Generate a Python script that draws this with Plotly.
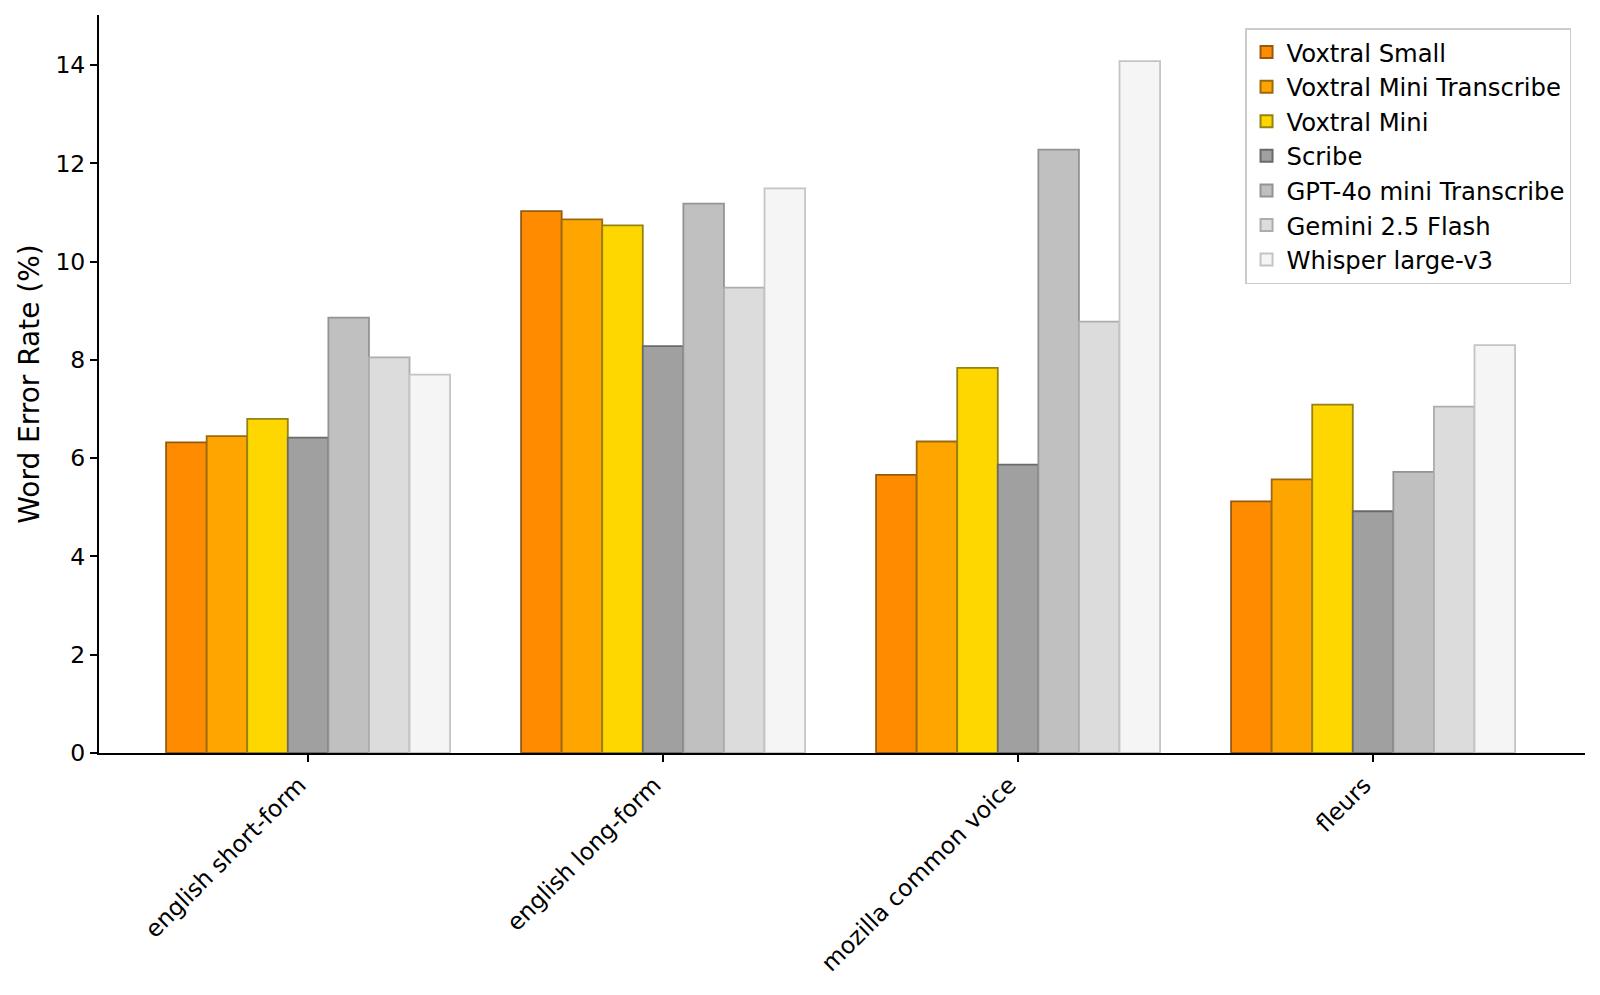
import plotly.graph_objects as go

categories = ["english short-form", "english long-form", "mozilla common voice", "fleurs"]
models = ["Voxtral Small", "Voxtral Mini Transcribe", "Voxtral Mini", "Scribe",
          "GPT-4o mini Transcribe", "Gemini 2.5 Flash", "Whisper large-v3"]
voxtral_small = [6.32, 11.03, 5.66, 5.12]
voxtral_mini_transcribe = [6.45, 10.86, 6.34, 5.57]
voxtral_mini = [6.80, 10.74, 7.84, 7.09]
scribe = [6.42, 8.28, 5.87, 4.92]
gpt4o_mini_transcribe = [8.86, 11.18, 12.28, 5.72]
gemini_flash = [8.05, 9.47, 8.78, 7.05]
whisper_large_v3 = [7.70, 11.49, 14.08, 8.30]
values = [voxtral_small, voxtral_mini_transcribe, voxtral_mini, scribe,
          gpt4o_mini_transcribe, gemini_flash, whisper_large_v3]

face_colors = ["#FF8C00", "#FFA500", "#FFD700", "#A0A0A0", "#C0C0C0", "#DCDCDC", "#F5F5F5"]
edge_colors = ["#955A12", "#9C6812", "#948212", "#6A6A6A", "#939393", "#ADADAD", "#C4C4C4"]

FONT = "DejaVu Sans"
fig = go.Figure()
for name, vals, fc, ec in zip(models, values, face_colors, edge_colors):
    fig.add_trace(go.Bar(
        x=categories, y=vals, name=name,
        marker=dict(color=fc, line=dict(color=ec, width=1.8)),
    ))

fig.update_layout(
    width=1600, height=995,
    barmode="group", bargap=0.2, bargroupgap=0,
    plot_bgcolor="white", paper_bgcolor="white",
    margin=dict(l=99, r=15, t=15, b=242),
    font=dict(family=FONT, size=23.5, color="black"),
    legend=dict(
        x=0.9906, y=0.982, xanchor="right", yanchor="top",
        bgcolor="white", bordercolor="#CCCCCC", borderwidth=1.5,
        font=dict(family=FONT, size=24.3), tracegroupgap=0,
        itemsizing="constant",
    ),
    xaxis=dict(
        type="category", range=[-0.589, 3.597],
        showline=True, linecolor="black", linewidth=2,
        ticks="outside", ticklen=7, tickwidth=1.6, tickcolor="black",
        tickangle=-45, showgrid=False, zeroline=False,
        ticklabelshift=-9,
        tickfont=dict(family=FONT, size=23.5),
    ),
    yaxis=dict(
        range=[0, 15.02], tickvals=[0, 2, 4, 6, 8, 10, 12, 14],
        showline=True, linecolor="black", linewidth=2,
        ticks="outside", ticklen=7, tickwidth=1.6, tickcolor="black",
        showgrid=False, zeroline=False,
        title=dict(text="Word Error Rate (%)", font=dict(family=FONT, size=28), standoff=8),
        tickfont=dict(family=FONT, size=23.5),
    ),
)

fig.write_html(
    "out.html",
    config={"displayModeBar": False},
    post_script="document.body.style.margin='0';document.body.style.overflow='hidden';",
)
